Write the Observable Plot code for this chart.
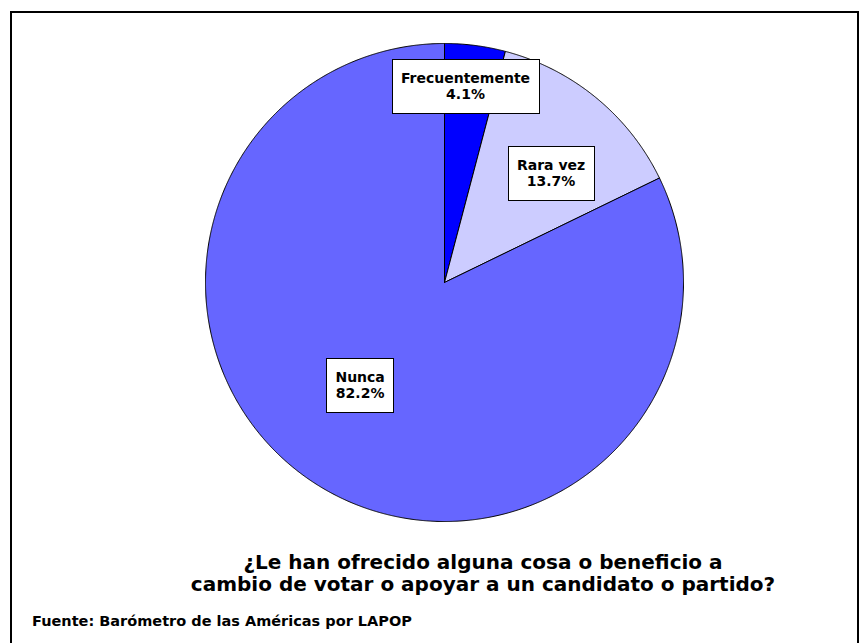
<!DOCTYPE html>
<html>
<head>
<meta charset="utf-8">
<script src="https://cdn.jsdelivr.net/npm/d3@7"></script>
<script src="https://cdn.jsdelivr.net/npm/@observablehq/plot@0.6"></script>
<style>
  html, body { margin: 0; padding: 0; background: #fff; }
  #wrap { position: relative; width: 867px; height: 643px; overflow: hidden; background: #fff; }
  #frame { position: absolute; left: 10px; top: 11px; width: 849px; height: 700px;
           border-left: 2px solid #000; border-top: 2px solid #000; border-right: 2px solid #000;
           box-sizing: border-box; }
  #chart { position: absolute; left: 0; top: 0; }
  #title { position: absolute; left: 0; top: 551px; width: 966px; text-align: center;
           font-family: "DejaVu Sans", sans-serif; font-weight: bold; font-size: 20px; line-height: 22px; color: #000; }
  #source { position: absolute; left: 32px; top: 612px;
            font-family: "DejaVu Sans", sans-serif; font-weight: bold; font-size: 14.5px; line-height: 18px; color: #000; }
</style>
</head>
<body>
<div id="wrap">
  <div id="frame"></div>
  <div id="chart"></div>
  <div id="title">¿Le han ofrecido alguna cosa o beneficio a<br>cambio de votar o apoyar a un candidato o partido?</div>
  <div id="source">Fuente: Barómetro de las Américas por LAPOP</div>
</div>
<script>
// ---- data ----
const categories = ["Frecuentemente", "Rara vez", "Nunca"];
const percents = [4.1, 13.7, 82.2];
const colors = ["#0000FF", "#CCCCFF", "#6666FF"];

// ---- label placement relative to each slice's mid-angle ----
const labelRadius = [0.829, 0.641, 0.554];
const labelAngleShift = [-1.3, 4.65, 7.55]; // degrees

// ---- geometry derived from data (clockwise from 12 o'clock) ----
const total = d3.sum(percents);
let acc = 0;
const slices = categories.map((c, i) => {
  const a0 = acc / total * 2 * Math.PI;
  acc += percents[i];
  const a1 = acc / total * 2 * Math.PI;
  return {c, v: percents[i], a0, a1, i};
});
const pts = [];
slices.forEach(s => {
  pts.push({c: s.c, x: 0, y: 0});
  const n = Math.max(2, Math.ceil((s.a1 - s.a0) / (Math.PI / 720)));
  for (let k = 0; k <= n; k++) {
    const a = s.a0 + (s.a1 - s.a0) * k / n;
    pts.push({c: s.c, x: Math.sin(a), y: Math.cos(a)});
  }
  pts.push({c: s.c, x: 0, y: 0});
});
const labels = slices.map(s => {
  const m = (s.a0 + s.a1) / 2 + labelAngleShift[s.i] * Math.PI / 180;
  const f = labelRadius[s.i];
  return {x: f * Math.sin(m), y: f * Math.cos(m), text: `${s.c}\n${s.v.toFixed(1)}%`};
});

const plot = Plot.plot({
  width: 867,
  height: 540,
  marginLeft: 205,
  marginRight: 184,
  marginTop: 43,
  marginBottom: 19,
  x: {domain: [-1, 1], axis: null},
  y: {domain: [-1, 1], axis: null},
  color: {domain: categories, range: colors},
  style: {background: "transparent", overflow: "visible"},
  marks: [
    Plot.line(pts, {x: "x", y: "y", z: "c", fill: "c", stroke: "#000", strokeWidth: 1, strokeLinejoin: "miter"}),
    Plot.text(labels, {
      x: "x", y: "y", text: "text",
      fontFamily: "DejaVu Sans", fontSize: 14, fontWeight: "bold",
      lineHeight: 16 / 14, fill: "#000", className: "pie-labels"
    })
  ]
});
document.getElementById("chart").appendChild(plot);

// white boxes with black border behind each label
const svgRect = plot.getBoundingClientRect();
const textGroup = plot.querySelector("g.pie-labels") || plot.querySelector('g[aria-label="text"]');
const boxGroup = document.createElementNS("http://www.w3.org/2000/svg", "g");
textGroup.parentNode.insertBefore(boxGroup, textGroup);
textGroup.querySelectorAll("text").forEach(t => {
  const r = t.getBoundingClientRect();
  const padX = 9, padTop = 11, padBottom = 11;
  const rect = document.createElementNS("http://www.w3.org/2000/svg", "rect");
  rect.setAttribute("x", Math.round(r.left - svgRect.left - padX) + 0.5);
  rect.setAttribute("y", Math.round(r.top - svgRect.top - padTop) + 0.5);
  rect.setAttribute("width", Math.round(r.width + 2 * padX));
  rect.setAttribute("height", Math.round(r.height + padTop + padBottom));
  rect.setAttribute("fill", "#fff");
  rect.setAttribute("stroke", "#000");
  rect.setAttribute("stroke-width", 1);
  boxGroup.appendChild(rect);
});
</script>
</body>
</html>
